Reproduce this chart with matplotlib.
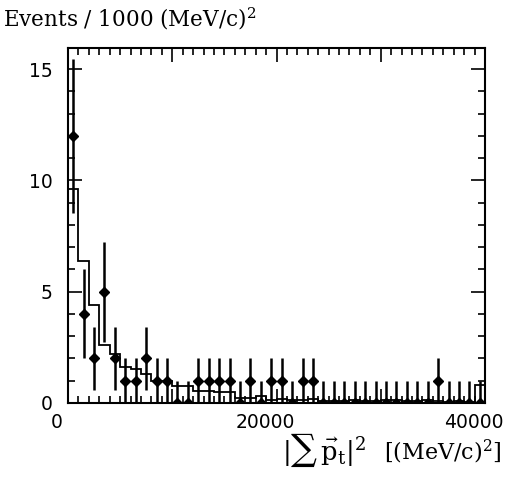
import numpy as np
import matplotlib
matplotlib.use("Agg")
from matplotlib import pyplot as plt
from matplotlib.ticker import MultipleLocator
from matplotlib.transforms import ScaledTranslation

# bins of 1000 (MeV/c)^2 from 0 to 40000
bin_width = 1000
n_bins = 40

# observed events per bin
counts = [12, 4, 2, 5, 2, 1, 1, 2, 1, 1,
          0, 0, 1, 1, 1, 1, 0, 1, 0, 1,
          1, 0, 1, 1, 0, 0, 0, 0, 0, 0,
          0, 0, 0, 0, 0, 1, 0, 0, 0, 0]
err_lo = [3.46, 2.0, 1.41, 2.24, 1.41, 1, 1, 1.41, 1, 1,
          0, 0, 1, 1, 1, 1, 0, 1, 0, 1,
          1, 0, 1, 1, 0, 0, 0, 0, 0, 0,
          0, 0, 0, 0, 0, 1, 0, 0, 0, 0]
err_hi = [3.46, 2.0, 1.41, 2.24, 1.41, 1, 1, 1.41, 1, 1,
          1, 1, 1, 1, 1, 1, 1, 1, 1, 1,
          1, 1, 1, 1, 1, 1, 1, 1, 1, 1,
          1, 1, 1, 1, 1, 1, 1, 1, 1, 1]

# expectation (histogram)
expected = [9.6, 6.4, 4.4, 2.6, 2.2, 1.6, 1.55, 1.3, 1.0, 1.0,
            0.75, 0.75, 0.52, 0.52, 0.5, 0.5, 0.22, 0.22, 0.33, 0.12,
            0.2, 0.15, 0.15, 0.2, 0.1, 0.1, 0.1, 0.12, 0.1, 0.1,
            0.15, 0.15, 0.08, 0.08, 0.15, 0.1, 0.05, 0.08, 0.06, 0.8]

x_ticks = [0, 10000, 20000, 30000, 40000]
x_ticklabels = ['0', '', '20000', '', '40000']

edges = np.arange(n_bins + 1) * bin_width
centers = edges[:-1] + bin_width / 2

W, H = 505, 478
fig = plt.figure(figsize=(W / 100, H / 100), dpi=100)
ax = fig.add_axes([68 / W, (H - 403) / H, (485 - 68) / W, (403 - 48) / H])

ax.stairs(expected, edges, color='black', lw=1.3, baseline=None)
ax.errorbar(centers, counts, yerr=[err_lo, err_hi], fmt='D', color='black',
            ms=5, lw=1.8, capsize=0, clip_on=True)

ax.set_xlim(0, 40000)
ax.set_ylim(0, 15.95)

ax.xaxis.set_minor_locator(MultipleLocator(1000))
ax.yaxis.set_major_locator(MultipleLocator(5))
ax.yaxis.set_minor_locator(MultipleLocator(1))
ax.set_xticks(x_ticks, x_ticklabels)

ax.tick_params(which='both', direction='in', top=True, right=True, width=1.2)
ax.tick_params(which='major', length=10)
ax.tick_params(which='minor', length=5)
ax.tick_params(axis='y', labelsize=13.5, pad=11)
ax.tick_params(axis='x', labelsize=13.5, pad=7.5)
shift = ScaledTranslation(-11 / 100, 0, fig.dpi_scale_trans)
for lab in ax.get_xticklabels():
    lab.set_family('DejaVu Sans')
    lab.set_transform(lab.get_transform() + shift)
for lab in ax.get_yticklabels():
    lab.set_family('DejaVu Sans')
for s in ax.spines.values():
    s.set_linewidth(1.5)

plt.rcParams['mathtext.fontset'] = 'dejavuserif'
fig.text(3 / W, 1 - 27 / H, r'Events / 1000 (MeV/c)$^2$', family='DejaVu Serif',
         fontsize=15.5, va='baseline', ha='left')
fig.text(502 / W, 1 - 460 / H, r'[(MeV/c)$^2$]', family='DejaVu Serif',
         fontsize=16, va='baseline', ha='right')
fig.text(366 / W, 1 - 460 / H, r'$|\sum\,\vec{\mathrm{p}}_{\mathrm{t}}|^{2}$',
         family='DejaVu Serif', fontsize=18.5, va='baseline', ha='right')

fig.savefig('out.png', dpi=100)
